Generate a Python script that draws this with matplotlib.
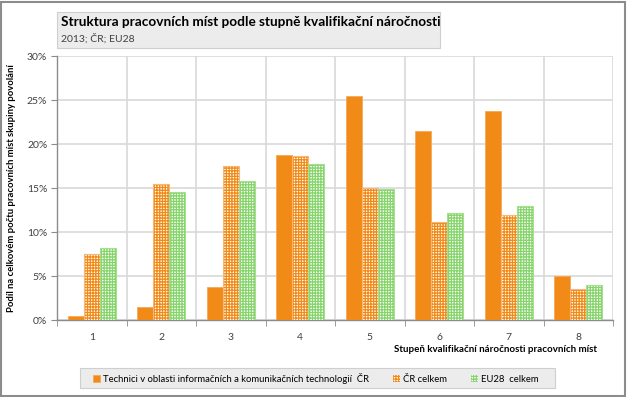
import matplotlib
matplotlib.use("Agg")
import matplotlib.pyplot as plt
import numpy as np
from matplotlib.patches import Rectangle

categories = ["1", "2", "3", "4", "5", "6", "7", "8"]
ict = [0.4, 1.5, 3.8, 18.8, 25.5, 21.5, 23.7, 5.0]
cr_total = [7.5, 15.4, 17.5, 18.6, 15.0, 11.1, 11.9, 3.5]
eu_total = [8.2, 14.6, 15.8, 17.7, 14.9, 12.2, 13.0, 4.0]
series_names = ["Technici v oblasti informačních a komunikačních technologií  ČR",
                "ČR celkem", "EU28  celkem"]
yticks = [0, 5, 10, 15, 20, 25, 30]

plt.rcParams['font.family'] = ['Lato', 'DejaVu Sans']
plt.rcParams['hatch.linewidth'] = 0.9

W, H = 627, 397
fig = plt.figure(figsize=(W / 100, H / 100), dpi=100)
fig.patch.set_facecolor("white")

# outer border
fig.add_artist(Rectangle((1 / W, 1 / H), (W - 3) / W, (H - 3) / H, transform=fig.transFigure,
                         fill=False, edgecolor="#8c8c8c", linewidth=1.5))

ax = fig.add_axes([57 / W, 1 - 320 / H, (613 - 57) / W, (320 - 56) / H])
x = np.arange(len(categories))
bw = 0.23
orange = "#F28A17"
green = "#86D46B"
ax.bar(x - bw, ict, bw, color=orange, edgecolor="#F5A95A", linewidth=0.6, zorder=3,
       label=series_names[0])
ax.bar(x, cr_total, bw, facecolor="white", edgecolor=orange, hatch="++++++", linewidth=0.0,
       zorder=3, label=series_names[1])
ax.bar(x, cr_total, bw, facecolor="none", edgecolor="#F7B77A", linewidth=0.8, zorder=4)
ax.bar(x + bw, eu_total, bw, facecolor="white", edgecolor=green, hatch="++++++", linewidth=0.0,
       zorder=3, label=series_names[2])
ax.bar(x + bw, eu_total, bw, facecolor="none", edgecolor="#A8DD94", linewidth=0.8, zorder=4)

ax.set_xlim(-0.5, len(categories) - 0.5)
ax.set_ylim(0, 30)
ax.set_yticks(yticks)
ax.set_yticklabels([f"{v}%" for v in yticks], fontsize=7.5, color="#404040")
ax.set_xticks(x)
ax.set_xticklabels(categories, fontsize=7.5, color="#404040")
ax.set_xticks(np.arange(-0.5, len(categories)), minor=True)
ax.tick_params(axis="x", which="major", length=0, pad=9)
ax.tick_params(axis="x", which="minor", length=4, color="#8c8c8c", direction="out")
ax.tick_params(axis="y", length=4, color="#8c8c8c", pad=3)
ax.grid(axis="y", color="#d9d9d9", linewidth=1.2, zorder=0)
ax.grid(axis="x", which="minor", color="#d9d9d9", linewidth=1.2, zorder=0)
for s in ["top", "right"]:
    ax.spines[s].set_visible(False)
for s in ["left", "bottom"]:
    ax.spines[s].set_color("#8c8c8c")
    ax.spines[s].set_linewidth(1.0)

ax.set_ylabel("Podíl na celkovém počtu pracovních míst skupiny povolání", fontsize=6.8,
              fontweight="bold", labelpad=8)
fig.text(597 / W, 1 - 350 / H, "Stupeň kvalifikační náročnosti pracovních míst", fontsize=7,
         fontweight="bold", ha="right", va="center")

# title box
fig.add_artist(Rectangle((57 / W, 1 - 48 / H), (440 - 57) / W, 36 / H, transform=fig.transFigure,
                         facecolor="#ececec", edgecolor="#cfcfcf", linewidth=0.8))
fig.text(61 / W, 1 - 22 / H, "Struktura pracovních míst podle stupně kvalifikační náročnosti",
         fontsize=9.8, fontweight="bold", ha="left", va="center")
fig.text(61 / W, 1 - 39 / H, "2013; ČR; EU28", fontsize=7.5, color="#404040", ha="left", va="center")

# legend box
fig.add_artist(Rectangle((80 / W, 1 - 388 / H), (555 - 80) / W, 20 / H, transform=fig.transFigure,
                         facecolor="#ececec", edgecolor="#cfcfcf", linewidth=0.8))
leg = fig.legend(loc="center", bbox_to_anchor=(316 / W, 1 - 378 / H), ncol=3, frameon=False,
                 fontsize=6.8, handlelength=0.7, handleheight=0.7, handletextpad=0.3,
                 columnspacing=2.6)

fig.savefig("out.png", dpi=100)
